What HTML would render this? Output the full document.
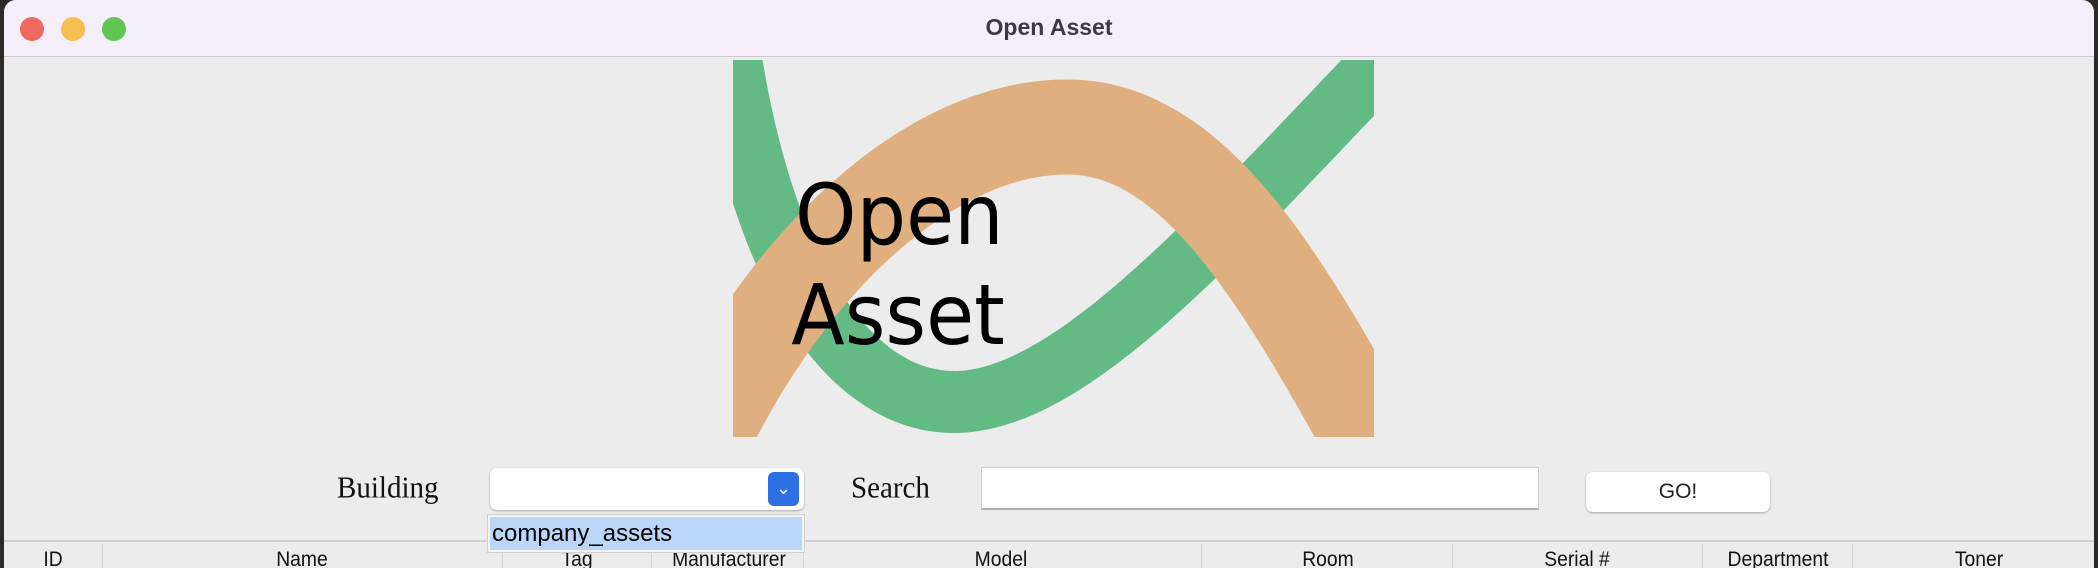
<!DOCTYPE html>
<html><head><style>
body{margin:0;width:2098px;height:568px;overflow:hidden;background:#2a2a2a;font-family:"Liberation Sans",sans-serif;}
#win{position:absolute;left:4px;top:0;width:2090px;height:568px;background:#ececec;border-radius:12px 12px 0 0;overflow:hidden;}
#tb{position:absolute;left:0;top:0;width:100%;height:56px;background:#f4eef9;border-bottom:1px solid #cfcbd3;}
.dot{position:absolute;top:17px;width:24px;height:24px;border-radius:50%;}
#title{position:absolute;left:0;width:100%;top:14px;text-align:center;font-weight:bold;font-size:23px;color:#3c3a40;}
.lbl{position:absolute;font-family:"Liberation Serif",serif;font-size:29px;color:#111;top:472px;transform:scaleY(1.05);}
.hd{position:absolute;top:548px;font-size:21px;color:#111;transform:translateX(-50%) scaleX(0.92);}
.sep{position:absolute;top:544px;width:1px;height:30px;background:#d4d4d4;}
</style></head><body>
<div id="win">
<div id="tb">
<div class="dot" style="left:16px;background:#ee6a5e"></div>
<div class="dot" style="left:57px;background:#f5bf4f"></div>
<div class="dot" style="left:98px;background:#61c554"></div>
<div id="title">Open Asset</div>
</div>
<svg style="position:absolute;left:729px;top:60px" width="641" height="377" viewBox="0 0 641 377">
<path d="M -5,-20 C 30,220 120,345 225,342 C 340,338 480,180 670,-20" fill="none" stroke="#63ba85" stroke-width="62"/>
<path d="M -40,400 C 50,200 200,65 337,67 C 470,69 560,240 660,420" fill="none" stroke="#dfaf80" stroke-width="95"/>
<g transform="translate(62,0) scale(0.93,1)">
<text x="0" y="184" font-family="DejaVu Sans,sans-serif" font-size="84" fill="#000">Open</text>
<text x="-4" y="284" font-family="DejaVu Sans,sans-serif" font-size="84" fill="#000">Asset</text>
</g>
</svg>
<div class="lbl" style="left:333px">Building</div>
<div style="position:absolute;left:486px;top:468px;width:314px;height:42px;background:#fff;border-radius:7px;box-shadow:0 1px 2px rgba(0,0,0,.3);"></div>
<div style="position:absolute;left:764px;top:472px;width:31px;height:34px;background:#2f6fe4;border-radius:6px;color:#fff;font-size:18px;text-align:center;line-height:32px;">&#8964;</div>
<div class="lbl" style="left:847px">Search</div>
<div style="position:absolute;left:977px;top:467px;width:558px;height:43px;background:#fff;border:1px solid #d0d0d0;border-bottom:2px solid #b0b0b0;box-sizing:border-box;"></div>
<div style="position:absolute;left:1582px;top:472px;width:184px;height:40px;background:#fff;border-radius:7px;box-shadow:0 1px 2px rgba(0,0,0,.3);text-align:center;line-height:40px;font-size:21px;color:#222;">GO!</div>
<div style="position:absolute;left:0;top:540px;width:100%;height:2px;background:#cfcfcf;"></div>
<div class="sep" style="left:98px"></div><div class="sep" style="left:498px"></div><div class="sep" style="left:647px"></div><div class="sep" style="left:799px"></div><div class="sep" style="left:1197px"></div><div class="sep" style="left:1448px"></div><div class="sep" style="left:1698px"></div><div class="sep" style="left:1848px"></div>
<div class="hd" style="left:49px">ID</div><div class="hd" style="left:298px">Name</div><div class="hd" style="left:573px">Tag</div><div class="hd" style="left:725px">Manufacturer</div><div class="hd" style="left:997px">Model</div><div class="hd" style="left:1324px">Room</div><div class="hd" style="left:1573px">Serial #</div><div class="hd" style="left:1774px">Department</div><div class="hd" style="left:1975px">Toner</div>
<div style="position:absolute;left:483px;top:514px;width:318px;height:39px;background:#f4f4f4;border:1px solid #cfcfcf;box-sizing:border-box;padding:2px;">
<div style="background:#bcd6fa;height:33px;font-size:24px;line-height:33px;color:#000;padding-left:2px;">company_assets</div></div>
</div>
</body></html>
